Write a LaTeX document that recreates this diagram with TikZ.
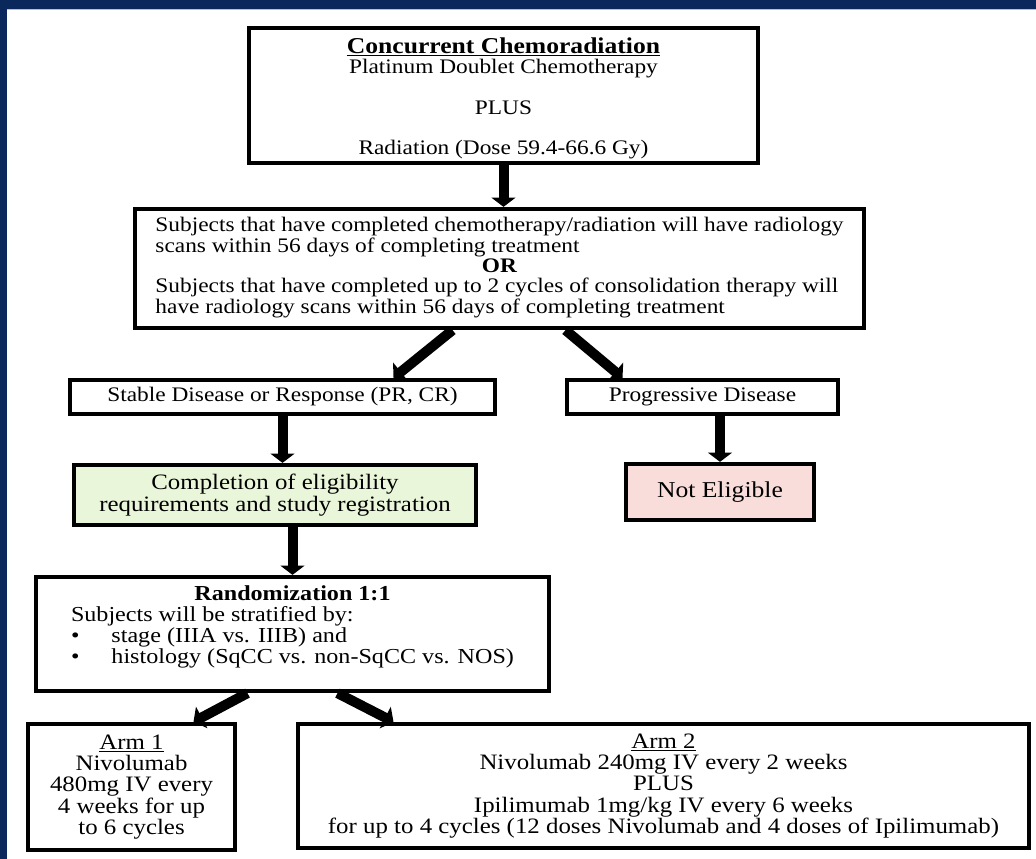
\documentclass[tikz,border=0pt]{standalone}
\usepackage{fontspec}
\setmainfont[FakeStretch=1.13]{Liberation Serif}
\usetikzlibrary{arrows.meta,calc}

\definecolor{navyband}{RGB}{10,40,92}
\definecolor{eligreen}{RGB}{234,246,218}
\definecolor{elipink}{RGB}{249,221,218}

\tikzset{
  flowbox/.style={draw=black, line width=3.2pt, fill=white, align=center, inner sep=0pt,
    font=\fontsize{15.5}{15}\selectfont},
  armbox/.style={flowbox, font=\fontsize{16.5}{16}\selectfont},
  fatarrow/.style={line width=7.5pt, -{Triangle[width=18pt,length=7pt]}},
}

\begin{document}
\begin{tikzpicture}[x=0.75pt,y=-0.75pt]
	\useasboundingbox (0,0) rectangle (1036,859);
	\fill[white] (0,0) rectangle (1036,859);
	\fill[navyband] (0,0) rectangle (1036,9);
	\fill[navyband] (0,0) rectangle (7,859);
	\fill[black!25] (7,9) rectangle (1036,10.5);

	\node[flowbox, minimum width=381.75pt, minimum height=101.25pt] (chemo) at (503.5,95.5)
		{\rule{0pt}{16pt}{\fontsize{17}{15}\selectfont\textbf{\underline{Concurrent Chemoradiation}}}\\
		Platinum Doublet Chemotherapy\\[16pt]
		PLUS\\[15pt] Radiation (Dose 59.4-66.6 Gy)};

	\node[flowbox, minimum width=546.75pt, minimum height=89.25pt] (scans) at (499.5,268.5)
		{\begin{tabular}{@{}l@{}}
		Subjects that have completed chemotherapy/radiation will have radiology\\
		scans within 56 days of completing treatment\\
		\multicolumn{1}{@{}c@{}}{\textbf{OR}}\\
		Subjects that have completed up to 2 cycles of consolidation therapy will\\
		have radiology scans within 56 days of completing treatment
		\end{tabular}};

	\node[flowbox, minimum width=318.75pt, minimum height=25.5pt] (stable) at (282.5,397)
		{Stable Disease or Response (PR, CR)};
	\node[flowbox, minimum width=203.25pt, minimum height=25.5pt] (progressive) at (702.5,397)
		{Progressive Disease};

	\node[flowbox, fill=eligreen, minimum width=301.5pt, minimum height=45pt,
		font=\fontsize{16.5}{17}\selectfont] (elig) at (275,495)
		{Completion of eligibility\\ requirements and study registration};
	\node[flowbox, fill=elipink, minimum width=141pt, minimum height=42pt,
		font=\fontsize{17}{17}\selectfont] (noteligible) at (720,492)
		{Not Eligible};

	\node[flowbox, minimum width=384.75pt, minimum height=85.5pt,
		font=\fontsize{16}{15}\selectfont] (random) at (292.5,634)
		{\begin{tabular}{@{}l@{}}
		\multicolumn{1}{@{}c@{}}{\textbf{Randomization 1:1}}\\
		Subjects will be stratified by:\\
		\textbullet\hspace{1.5em}stage (IIIA vs. IIIB) and\\
		\textbullet\hspace{1.5em}histology (SqCC vs. non-SqCC vs. NOS)\\[10pt]
		\end{tabular}};

	\node[armbox, minimum width=155.25pt, minimum height=94.5pt] (armone) at (131.5,787)
		{\underline{Arm 1}\\ Nivolumab\\ 480mg IV every\\ 4 weeks for up\\ to 6 cycles};
	\node[armbox, minimum width=548.25pt, minimum height=93pt] (armtwo) at (663.5,786)
		{\underline{Arm 2}\\ Nivolumab 240mg IV every 2 weeks\\ PLUS\\
		Ipilimumab 1mg/kg IV every 6 weeks\\
		for up to 4 cycles (12 doses Nivolumab and 4 doses of Ipilimumab)};

	\draw[fatarrow] (chemo.south) -- (chemo.south |- scans.north);
	\draw[fatarrow] ($(scans.south)+(-47,0)$) -- ($(stable.north)+(111,0)$);
	\draw[fatarrow] ($(scans.south)+(66,0)$) -- ($(progressive.north)+(-80,0)$);
	\draw[fatarrow] (stable.south) -- (stable.south |- elig.north);
	\draw[fatarrow] (noteligible.north |- progressive.south) -- (noteligible.north);
	\draw[fatarrow] (random.north |- elig.south) -- (random.north);
	\draw[fatarrow] ($(random.south)+(-45,0)$) -- ($(armone.north)+(62,0)$);
	\draw[fatarrow] ($(random.south)+(45,0)$) -- ($(armtwo.north)+(-270,0)$);

\end{tikzpicture}
\end{document}
